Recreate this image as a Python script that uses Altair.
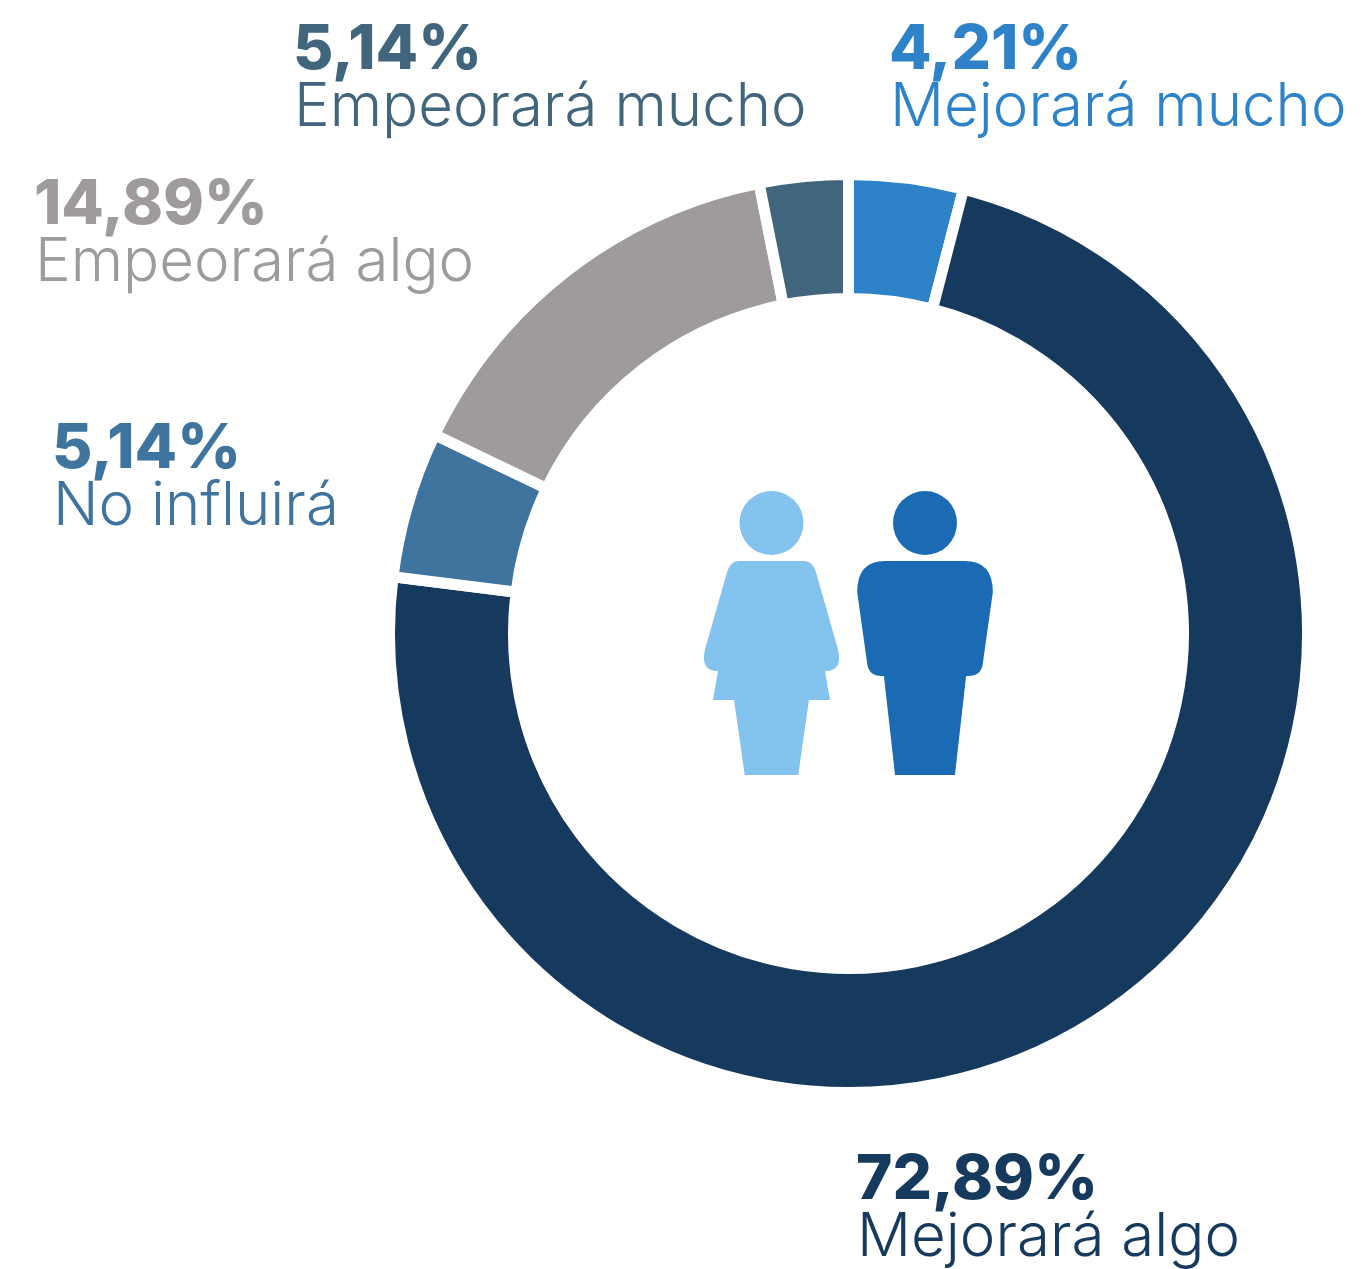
import altair as alt
import pandas as pd

categories = ["Mejorará mucho", "Mejorará algo", "No influirá", "Empeorará algo", "Empeorará mucho"]
labels = ["4,21%", "72,89%", "5,14%", "14,89%", "5,14%"]
drawn = [4.03, 72.94, 5.16, 14.75, 3.12]
colors = ["#2E83C8", "#16395E", "#3F749E", "#9E9B9A", "#41657C"]
order = [0, 1, 2, 3, 4]
label_x = [881, 848, 44, 26, 285]
label_y = [61, 1191, 460, 216, 61]

W, H = 1346, 1261
CX, CY = 840.5, 625.5

df = pd.DataFrame({"cat": categories, "v": drawn, "o": order})
arc = alt.Chart(df).mark_arc(innerRadius=335, outerRadius=459, stroke="white", strokeWidth=11).encode(
    theta=alt.Theta("v:Q", stack=True, scale=alt.Scale(domain=[0, sum(drawn)], range=[0, 6.28318530718])),
    color=alt.Color("cat:N", scale=alt.Scale(domain=categories, range=colors), legend=None),
    order=alt.Order("o:Q"),
    x=alt.value(CX), y=alt.value(CY),
)
layers = [arc]
FONT = "Inter"
for i, c in enumerate(categories):
    one = pd.DataFrame({"t": [labels[i]], "n": [c]})
    layers.append(alt.Chart(one).mark_text(font=FONT, fontWeight=800, fontSize=62, align="left", baseline="alphabetic", color=colors[i]).encode(
        text="t:N", x=alt.value(label_x[i]), y=alt.value(label_y[i])))
    layers.append(alt.Chart(one).mark_text(font=FONT, fontWeight=300, fontSize=60, align="left", baseline="alphabetic", color=colors[i]).encode(
        text="n:N", x=alt.value(label_x[i] + 1), y=alt.value(label_y[i] + 57)))

WOMAN = "#83C3EE"
MAN = "#1A6BB4"
W_PATH = ("M-0.30 -1 L0.30 -1 Q0.39 -1 0.42 -0.88 L0.62 -0.18 Q0.67 0.03 0.50 0.03 L0.547 0.30 L0.35 0.30 L0.25 1 "
          "L-0.25 1 L-0.35 0.30 L-0.547 0.30 L-0.50 0.03 Q-0.67 0.03 -0.62 -0.18 L-0.42 -0.88 Q-0.39 -1 -0.30 -1 Z")
M_PATH = ("M-0.375 -1 L0.375 -1 Q0.634 -1 0.634 -0.71 L0.54 -0.04 Q0.525 0.075 0.406 0.075 L0.384 0.075 L0.28 1 "
          "L-0.28 1 L-0.384 0.075 L-0.406 0.075 Q-0.525 0.075 -0.54 -0.04 L-0.634 -0.71 Q-0.634 -1 -0.375 -1 Z")
icons = pd.DataFrame({"who": ["mujer"]})
for col, px, path in [(WOMAN, 763.5, W_PATH), (MAN, 917, M_PATH)]:
    layers.append(alt.Chart(icons).mark_point(filled=True, shape="circle", size=64**2, color=col, opacity=1, strokeWidth=0).encode(x=alt.value(px), y=alt.value(515)))
    layers.append(alt.Chart(icons).mark_point(filled=True, shape=path, size=214**2, color=col, opacity=1, strokeWidth=0).encode(x=alt.value(px), y=alt.value(660)))

chart = alt.layer(*layers).properties(width=W, height=H, padding=0, autosize=alt.AutoSizeParams(type="none")).configure_view(stroke=None)
chart.save("out.html", embed_options={"renderer": "svg", "actions": False})
